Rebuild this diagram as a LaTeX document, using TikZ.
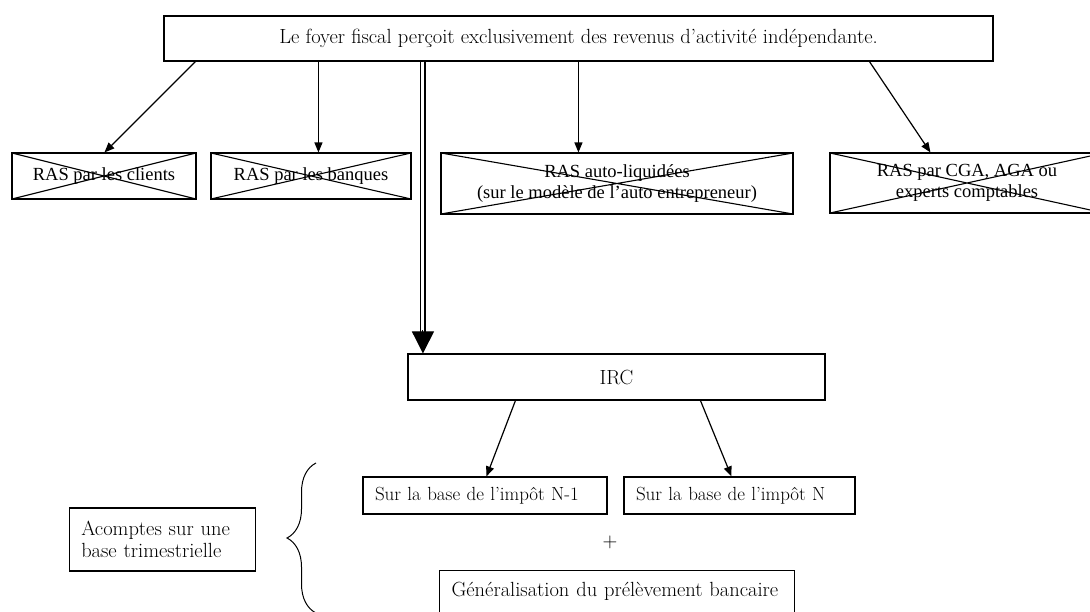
\documentclass[tikz,border=0pt]{standalone}
\usepackage{fontspec}
\newfontfamily\timesfont{Liberation Serif}
\usetikzlibrary{arrows.meta,decorations.pathreplacing}

\tikzset{
  box/.style={draw, line width=1.1pt, inner sep=0pt, align=center,
    font=\fontsize{20.5}{21.5}\selectfont},
  leftbox/.style={box, inner xsep=12pt, align=left},
  crossbox/.style={box, font=\timesfont\fontsize{18.5}{21.5}\selectfont,
    path picture={\draw[line width=1.1pt]
      (path picture bounding box.south west) -- (path picture bounding box.north east)
      (path picture bounding box.north west) -- (path picture bounding box.south east);}},
  arr/.style={-{Triangle[length=10pt,width=8pt]}, line width=1.2pt},
  dbl/.style={double, double distance=3pt, line width=1.5pt},
  bigarr/.style={-{Triangle[length=22pt,width=22pt]}, line width=1pt},
}

\begin{document}
\begin{tikzpicture}[x=1pt, y=-1pt]
    \useasboundingbox (0,0) rectangle (1090,612);
    \clip (0,0) rectangle (1090,612);

    % Top box
    \node[box, minimum width=829pt, minimum height=45pt] (foyer) at (578.5,38.5)
      {Le foyer fiscal perçoit exclusivement des revenus d’activité indépendante.};

    % The four crossed-out options
    \node[crossbox, minimum width=184pt, minimum height=46pt] (ras1) at (104,176) {RAS par les clients};
    \node[crossbox, minimum width=200pt, minimum height=46pt] (ras2) at (311,176) {RAS par les banques};
    \node[crossbox, minimum width=352pt, minimum height=61pt] (ras3) at (617,183.5)
      {RAS auto-liquidées\\(sur le modèle de l’auto entrepreneur)};
    \node[crossbox, minimum width=274pt, minimum height=60pt] (ras4) at (967,183)
      {RAS par CGA, AGA ou\\experts comptables};

    % Arrows to the options
    \draw[arr] ([xshift=32pt]foyer.south west) -- ([xshift=93pt]ras1.north west);
    \draw[arr] ([xshift=155pt]foyer.south west) -- ([xshift=108pt]ras2.north west);
    \draw[arr] ([xshift=415pt]foyer.south west) -- ([xshift=138pt]ras3.north west);
    \draw[arr] ([xshift=706pt]foyer.south west) -- ([xshift=101pt]ras4.north west);

    % IRC and the double arrow
    \node[box, minimum width=417pt, minimum height=46pt] (irc) at (616.5,377) {IRC};
    \draw[dbl] ([xshift=259.5pt]foyer.south west) -- ([xshift=15.5pt,yshift=21pt]irc.north west);
    \draw[bigarr] ([xshift=15.5pt,yshift=23pt]irc.north west) -- ([xshift=15.5pt]irc.north west);

    % Bases of the tax
    \node[leftbox, font=\fontsize{19}{21.5}\selectfont, text width=220pt, minimum height=37pt] (base1)
      at (485,495.5) {Sur la base de l’impôt N-1};
    \node[leftbox, font=\fontsize{19}{21.5}\selectfont, text width=207pt, minimum height=37pt] (base2)
      at (739.5,495.5) {Sur la base de l’impôt N};
    \draw[arr] ([xshift=108pt]irc.south west) -- ([xshift=124pt]base1.north west);
    \draw[arr] ([xshift=293pt]irc.south west) -- ([xshift=108pt]base2.north west);

    \node[font=\fontsize{20.5}{21.5}\selectfont] (plus) at (610,542) {+};

    % Bank levy, cut by the page edge
    \node[leftbox, text width=331pt, text height=26pt, text depth=24pt, anchor=north] (gen) at (617,570)
      {Généralisation du prélèvement bancaire};

    % Left box and brace
    \node[leftbox, text width=162pt, minimum height=63pt] (acomptes) at (162.25,539.5)
      {Acomptes sur une\\base trimestrielle};
    \draw[line width=1pt, decorate, decoration={brace, amplitude=29pt}] (316,613) -- (316,463);
\end{tikzpicture}
\end{document}
